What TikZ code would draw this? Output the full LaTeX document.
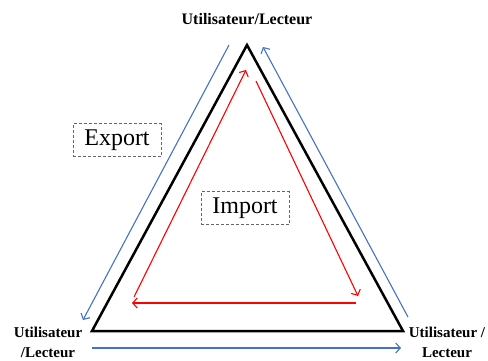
\documentclass[tikz,border=0pt]{standalone}
\usepackage{fontspec}
\setmainfont{Liberation Serif}
\usetikzlibrary{arrows.meta}

\begin{document}
\begin{tikzpicture}[x=1pt,y=-1pt,
user/.style={font=\fontsize{15}{20}\selectfont\bfseries,align=center,inner sep=0pt},
sens/.style={draw=gray!80!black,densely dashed,line width=0.6pt,
	minimum width=88pt,minimum height=33pt,
	font=\fontsize{24}{26}\selectfont},
bleu/.style={draw=flux,line width=1.1pt,-{Straight Barb[length=4.5pt,width=10pt]}},
rouge/.style={draw=red,line width=1.1pt,-{Straight Barb[length=4.5pt,width=10pt]}}
]
\definecolor{flux}{RGB}{68,114,196}
\useasboundingbox (0,0) rectangle (488,360);
% sommets du triangle
\coordinate (haut) at (247,45);
\coordinate (gauche) at (92,331);
\coordinate (droite) at (403,331);
\draw[line width=2.5pt] (haut) -- (gauche) -- (droite) -- cycle;
% fleches exterieures
\coordinate (e1) at (229,45);
\coordinate (e2) at (83,320);
\coordinate (e3) at (408,317);
\coordinate (e4) at (263,47);
\coordinate (e5) at (92,348);
\coordinate (e6) at (401,348);
\draw[bleu] (e1) -- (e2);
\draw[bleu] (e3) -- (e4);
\draw[bleu] (e5) -- (e6);
% fleches interieures
\coordinate (i1) at (134,297);
\coordinate (i2) at (246,70);
\coordinate (i3) at (256,81);
\coordinate (i4) at (358,296);
\coordinate (i5) at (356,303);
\coordinate (i6) at (132,303);
\draw[rouge] (i1) -- (i2);
\draw[rouge] (i3) -- (i4);
\draw[rouge] (i5) -- (i6);
% textes
\node[user,font=\fontsize{16}{20}\selectfont\bfseries] (lecteurH) at (247,19) {Utilisateur/Lecteur};
\node[user] (lecteurG) at (48,342) {Utilisateur\\/Lecteur};
\node[user] (lecteurD) at (447,342) {Utilisateur /\\Lecteur};
\node[sens] (export) at (117,140) {Export};
\node[sens] (import) at (245,208) {Import};
\end{tikzpicture}
\end{document}
